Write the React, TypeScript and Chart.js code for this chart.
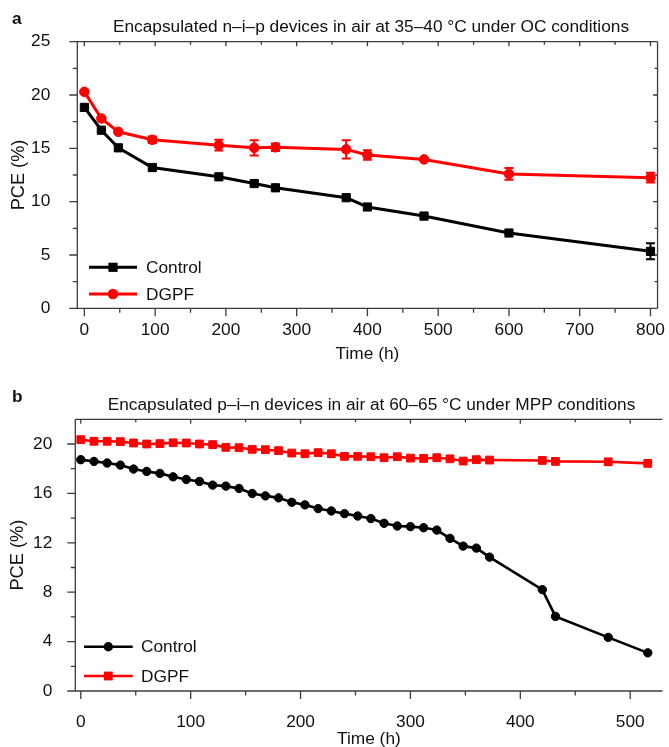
import React, { useEffect, useRef } from 'react';
import { Chart, registerables } from 'chart.js';

Chart.register(...registerables);

const FONT = "'Liberation Sans', Arial, Helvetica, sans-serif";
const FS = 17.3;
const TEXT = '#111111';
const AXIS = '#3c3c3c';
const RED = '#ff0000';
const BLACK = '#000000';

// ---------- Panel a: n–i–p devices, 35–40 °C, OC ----------
const titleA = 'Encapsulated n–i–p devices in air at 35–40 °C under OC conditions';
const timeA = [0, 24, 48, 96, 190, 240, 270, 370, 400, 480, 600, 800];
const controlA = [18.84, 16.7, 15.05, 13.2, 12.33, 11.7, 11.3, 10.37, 9.5, 8.65, 7.06, 5.34];
const controlAErr = [0, 0, 0, 0, 0, 0, 0, 0, 0, 0, 0, 0.75];
const dgpfA = [20.3, 17.8, 16.55, 15.8, 15.3, 15.05, 15.1, 14.9, 14.37, 13.96, 12.6, 12.25];
const dgpfAErr = [0, 0, 0, 0.3, 0.5, 0.72, 0.35, 0.85, 0.45, 0, 0.55, 0.45];
const xMajorA = [0, 100, 200, 300, 400, 500, 600, 700, 800];
const xMinorA = [50, 150, 250, 350, 450, 550, 650, 750];
const yMajorA = [0, 5, 10, 15, 20, 25];
const yMinorA = [2.5, 7.5, 12.5, 17.5, 22.5];

// ---------- Panel b: p–i–n devices, 60–65 °C, MPP ----------
const titleB = 'Encapsulated p–i–n devices in air at 60–65 °C under MPP conditions';
const timeB = [0, 12, 24, 36, 48, 60, 72, 84, 96, 108, 120, 132, 144, 156, 168, 180, 192, 204, 216, 228, 240, 252, 264, 276, 288, 300, 312, 324, 336, 348, 360, 372, 420, 432, 480, 516];
const controlB = [18.73, 18.59, 18.46, 18.29, 17.97, 17.78, 17.62, 17.34, 17.13, 16.97, 16.67, 16.59, 16.4, 15.99, 15.8, 15.64, 15.28, 15.07, 14.77, 14.58, 14.36, 14.17, 13.96, 13.58, 13.36, 13.31, 13.22, 13.03, 12.36, 11.73, 11.57, 10.84, 8.21, 6.04, 4.34, 3.09];
const dgpfB = [20.35, 20.22, 20.22, 20.19, 20.08, 20.0, 20.03, 20.1, 20.08, 20.0, 19.95, 19.73, 19.7, 19.57, 19.54, 19.46, 19.27, 19.21, 19.3, 19.21, 19.0, 19.0, 18.97, 18.89, 18.97, 18.86, 18.83, 18.89, 18.8, 18.62, 18.73, 18.7, 18.67, 18.59, 18.56, 18.43];
const xMajorB = [0, 100, 200, 300, 400, 500];
const xMinorB = [50, 150, 250, 350, 450];
const yMajorB = [0, 4, 8, 12, 16, 20];
const yMinorB = [2, 6, 10, 14, 18];

const framePlugin = {
  id: 'frame',
  beforeDatasetsDraw(chart: any, _args: any, opts: any) {
    const { ctx, chartArea: a, scales } = chart;
    const xs = scales.x;
    const ys = scales.y;
    ctx.save();
    ctx.strokeStyle = AXIS;
    ctx.lineWidth = 1.3;
    ctx.beginPath();
    ctx.moveTo(a.left, a.top);
    ctx.lineTo(a.left, a.bottom);
    ctx.lineTo(a.right, a.bottom);
    ctx.moveTo(a.left, a.top);
    ctx.lineTo(a.right, a.top);
    if (opts.rightBorder) {
      ctx.moveTo(a.right, a.top);
      ctx.lineTo(a.right, a.bottom);
    }
    const xt = (vals: number[], outLen: number, inLen: number) => {
      vals.forEach((v) => {
        const px = xs.getPixelForValue(v);
        ctx.moveTo(px, a.bottom);
        ctx.lineTo(px, a.bottom + outLen);
        ctx.moveTo(px, a.top);
        ctx.lineTo(px, a.top + inLen);
      });
    };
    const yt = (vals: number[], outLen: number, inLen: number) => {
      vals.forEach((v) => {
        const py = ys.getPixelForValue(v);
        ctx.moveTo(a.left - outLen, py);
        ctx.lineTo(a.left, py);
        if (opts.rightBorder) {
          ctx.moveTo(a.right, py);
          ctx.lineTo(a.right - inLen, py);
        }
      });
    };
    xt(opts.xMajor, 8, 4.5);
    xt(opts.xMinor, 4.5, 3);
    yt(opts.yMajor, 8, 4.5);
    yt(opts.yMinor, 4.5, 3);
    ctx.stroke();

    // error bars (under the markers)
    chart.data.datasets.forEach((ds: any) => {
      if (!ds.errors) return;
      ctx.strokeStyle = ds.borderColor;
      ctx.lineWidth = 2;
      ctx.beginPath();
      ds.data.forEach((p: any, j: number) => {
        const e = ds.errors[j];
        if (!e) return;
        const px = xs.getPixelForValue(p.x);
        const y1 = ys.getPixelForValue(p.y + e);
        const y2 = ys.getPixelForValue(p.y - e);
        ctx.moveTo(px, y1);
        ctx.lineTo(px, y2);
        ctx.moveTo(px - 4.5, y1);
        ctx.lineTo(px + 4.5, y1);
        ctx.moveTo(px - 4.5, y2);
        ctx.lineTo(px + 4.5, y2);
      });
      ctx.stroke();
    });
    ctx.restore();
  },
  afterDraw(chart: any, _args: any, opts: any) {
    const { ctx } = chart;
    ctx.save();
    ctx.fillStyle = TEXT;
    ctx.font = `${FS}px ${FONT}`;
    ctx.textAlign = 'center';
    ctx.textBaseline = 'alphabetic';
    ctx.fillText(opts.title, opts.titleX, opts.titleY);
    ctx.font = `bold ${FS}px ${FONT}`;
    ctx.textAlign = 'left';
    ctx.fillText(opts.letter, opts.letterX, opts.letterY);
    // legend
    const lg = opts.legend;
    chart.data.datasets.forEach((ds: any, i: number) => {
      const y = lg.ys[i];
      ctx.strokeStyle = ds.borderColor;
      ctx.lineWidth = ds.borderWidth;
      ctx.beginPath();
      ctx.moveTo(lg.x0, y);
      ctx.lineTo(lg.x1, y);
      ctx.stroke();
      const cx = (lg.x0 + lg.x1) / 2;
      ctx.fillStyle = ds.backgroundColor;
      ctx.beginPath();
      if (ds.pointStyle === 'rect') {
        const h = Math.SQRT1_2 * ds.pointRadius + 0.5;
        ctx.rect(cx - h, y - h, 2 * h, 2 * h);
      } else {
        ctx.arc(cx, y, ds.pointRadius + 0.5, 0, Math.PI * 2);
      }
      ctx.fill();
      ctx.fillStyle = TEXT;
      ctx.font = `${FS}px ${FONT}`;
      ctx.textAlign = 'left';
      ctx.textBaseline = 'middle';
      ctx.fillText(ds.label, lg.textX, y + 1);
    });
    ctx.restore();
  },
};

function series(label: string, xs: number[], ys: number[], color: string, style: string, radius: number, width: number, errors?: number[]) {
  return {
    label,
    data: xs.map((t, i) => ({ x: t, y: ys[i] })),
    borderColor: color,
    backgroundColor: color,
    borderWidth: width,
    pointStyle: style,
    pointRadius: radius,
    pointBorderWidth: 1,
    pointBackgroundColor: color,
    pointBorderColor: color,
    tension: 0,
    errors,
  };
}

function axisFont(size: number = FS) {
  return { family: FONT, size };
}

function makeConfig(p: any): any {
  return {
    type: 'line',
    data: { datasets: p.datasets },
    plugins: [framePlugin],
    options: {
      animation: false,
      responsive: false,
      events: [],
      layout: { padding: p.padding },
      plugins: {
        legend: { display: false },
        tooltip: { enabled: false },
        title: { display: false },
        frame: p.frame,
      },
      scales: {
        x: {
          type: 'linear',
          min: p.xMin,
          max: p.xMax,
          grid: { display: false },
          border: { display: false },
          afterBuildTicks: (s: any) => {
            s.ticks = p.xMajor.map((v: number) => ({ value: v }));
          },
          ticks: { font: axisFont(), color: TEXT, padding: p.xTickPad, maxRotation: 0, autoSkip: false },
          title: { display: true, text: 'Time (h)', font: axisFont(), color: TEXT, padding: { top: 0, bottom: p.xTitlePad } },
          afterFit: (s: any) => {
            s.height = p.xHeight;
          },
        },
        y: {
          type: 'linear',
          min: p.yMin,
          max: p.yMax,
          grid: { display: false },
          border: { display: false },
          afterBuildTicks: (s: any) => {
            s.ticks = p.yMajor.map((v: number) => ({ value: v }));
          },
          ticks: { font: axisFont(), color: TEXT, padding: p.yTickPad },
          title: { display: true, text: 'PCE (%)', font: axisFont(18.2), color: TEXT, padding: { top: p.yTitlePad, bottom: 0 } },
          afterFit: (s: any) => {
            s.width = p.yWidth;
          },
        },
      },
    },
  };
}

const configA = () =>
  makeConfig({
    datasets: [
      series('Control', timeA, controlA, BLACK, 'rect', 5.8, 3, controlAErr),
      series('DGPF', timeA, dgpfA, RED, 'circle', 4.8, 3, dgpfAErr),
    ],
    padding: { left: 0, top: 41.7, right: 9, bottom: 0 },
    xMin: -10,
    xMax: 810,
    yMin: 0,
    yMax: 25,
    xMajor: xMajorA,
    yMajor: yMajorA,
    xTickPad: 4,
    xTitlePad: 5.2,
    xHeight: 61.7,
    yTickPad: 19,
    yTitlePad: 8,
    yWidth: 77.3,
    frame: {
      rightBorder: true,
      xMajor: xMajorA,
      xMinor: xMinorA,
      yMajor: yMajorA,
      yMinor: yMinorA,
      title: titleA,
      titleX: 371,
      titleY: 32,
      letter: 'a',
      letterX: 12,
      letterY: 24,
      legend: { x0: 89, x1: 137, textX: 146, ys: [267.3, 294] },
    },
  });

const configB = () =>
  makeConfig({
    datasets: [
      series('Control', timeB, controlB, BLACK, 'circle', 4.2, 2.6),
      series('DGPF', timeB, dgpfB, RED, 'rect', 5.5, 2.6),
    ],
    padding: { left: 0, top: 49.3, right: 0, bottom: 0 },
    xMin: -5,
    xMax: 529.4,
    yMin: 0,
    yMax: 22,
    xMajor: xMajorB,
    yMajor: yMajorB,
    xTickPad: 12.8,
    xTitlePad: 10.2,
    xHeight: 69,
    yTickPad: 15,
    yTitlePad: 7.5,
    yWidth: 75.3,
    frame: {
      rightBorder: false,
      xMajor: xMajorB,
      xMinor: xMinorB,
      yMajor: yMajorB,
      yMinor: yMinorB,
      title: titleB,
      titleX: 371.5,
      titleY: 40,
      letter: 'b',
      letterX: 12,
      letterY: 31.7,
      legend: { x0: 84, x1: 132.7, textX: 141, ys: [276.7, 306] },
    },
  });

function Panel({ make, top, height }: { make: () => any; top: number; height: number }) {
  const ref = useRef<HTMLCanvasElement>(null);
  useEffect(() => {
    const chart = new Chart(ref.current as HTMLCanvasElement, make());
    return () => chart.destroy();
  }, []);
  return (
    <canvas
      ref={ref}
      width={669}
      height={height}
      style={{ position: 'absolute', left: 0, top, width: 669, height, display: 'block' }}
    />
  );
}

export default function App() {
  return (
    <div style={{ position: 'absolute', left: 0, top: 0, width: 669, height: 747, overflow: 'hidden', background: '#fff' }}>
      <Panel make={configA} top={0} height={370} />
      <Panel make={configB} top={370} height={390} />
    </div>
  );
}
